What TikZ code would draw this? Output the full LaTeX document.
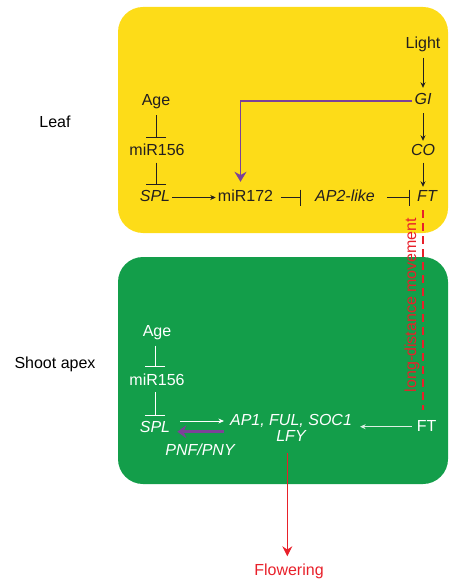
\documentclass[tikz,border=0pt]{standalone}
\usepackage{fontspec}
\setmainfont{Liberation Sans}
\usetikzlibrary{arrows.meta}
\definecolor{leafyellow}{RGB}{253,220,24}
\definecolor{apexgreen}{RGB}{19,158,74}
\definecolor{pathpurple}{RGB}{124,66,152}
\definecolor{flowred}{RGB}{232,32,42}
\definecolor{darkline}{RGB}{35,31,32}
\begin{document}
\begin{tikzpicture}[x=1pt, y=-1pt,
	gene/.style={inner sep=2pt, text height=11.5pt, text depth=3.5pt, font=\fontsize{16}{16.7}\selectfont},
	act/.style={line width=0.8pt, -{Stealth[length=5.5pt, width=5pt]}},
	inhib/.style={line width=0.8pt, -{Bar[width=20pt]}},
	inhibh/.style={line width=0.8pt, -{Bar[width=16pt]}}]
			\useasboundingbox (0,0) rectangle (449,580);
			% the two tissues
			\fill[leafyellow, rounded corners=25pt] (118,7) rectangle (448,233);
			\fill[apexgreen, rounded corners=25pt] (118,257) rectangle (448,484);
			\node[gene](leaf) at (55,124){Leaf};
			\node[gene](apex) at (55,364){Shoot apex};
			% leaf
			\node[gene, text=darkline](light) at (423,45){Light};
			\node[gene, text=darkline](gi) at (423,101){\itshape GI};
			\node[gene, text=darkline](co) at (423,152){\itshape CO};
			\node[gene, text=darkline](ftleaf) at (427,197.5){\itshape FT};
			\node[gene, text=darkline](ageleaf) at (156,102){Age};
			\node[gene, text=darkline](mirleaf) at (157,152){miR156};
			\node[gene, text=darkline](splleaf) at (155,197.5){\itshape SPL};
			\node[gene, text=darkline](mir172) at (245.5,197.5){miR172};
			\node[gene, text=darkline](ap2) at (345,197.5){\itshape AP2-like};
			\draw[darkline, act, shorten <=3pt, shorten >=3.5pt] (light) -- (gi);
			\draw[darkline, act, shorten <=2.5pt, shorten >=1.5pt] (gi) -- (co);
			\draw[darkline, act, shorten <=1pt, shorten >=1pt] (co.south) -- (co.south |- ftleaf.north);
			\draw[darkline, inhib, shorten <=3.5pt, shorten >=4pt] (ageleaf) -- (ageleaf |- mirleaf.north);
			\draw[darkline, inhib, shorten <=1pt, shorten >=3pt] (mirleaf.south -| ageleaf) -- (ageleaf |- splleaf.north);
			\draw[darkline, act] (splleaf) -- (mir172);
			\draw[darkline, inhibh, shorten <=5.5pt, shorten >=12pt] (mir172) -- (ap2);
			\draw[darkline, inhibh, shorten <=10pt, shorten >=5.5pt] (ap2) -- (ftleaf);
			\draw[pathpurple, line width=1.2pt, -{Stealth[length=10pt, width=12pt]}, shorten >=6pt] (gi.west) -| ([xshift=-5pt]mir172.north);
			% long-distance movement
			\draw[flowred, line width=1.3pt, dash pattern=on 8pt off 5pt] (ftleaf.south) ++(-4,3) coordinate (ldtop) -- (ldtop |- 0,410) coordinate (ldbot);
			\node[gene, text=flowred, rotate=90](move) at (412,305){long-distance movement};
			% shoot apex
			\node[gene, text=white](ageapex) at (157,332){Age};
			\node[gene, text=white](mirapex) at (157,381){miR156};
			\node[gene, text=white](splapex) at (155,428.7){\itshape SPL};
			\node[gene, text=white, align=center, anchor=base](targets) at (291,441.7){\itshape AP1, FUL, SOC1\\\itshape LFY};
			\node[gene, text=white](ftapex) at (426.7,427.7){FT};
			\node[gene, text=white](pnf) at (200,451){\itshape PNF/PNY};
			\node[gene, text=flowred](flower) at (289,571){Flowering};
			\draw[white, inhib, shorten <=4pt, shorten >=4.5pt] (ageapex.south -| splapex) -- (splapex |- mirapex.north);
			\draw[white, inhib, shorten <=1.5pt, shorten >=3.5pt] (mirapex.south -| splapex) -- (splapex |- splapex.north);
			\draw[white, act, shorten <=8pt, shorten >=4pt] ([yshift=7.7pt]splapex.east) -- ([yshift=7.7pt]splapex.east -| targets.west);
			\draw[pathpurple, line width=2.6pt, -{Stealth[length=9pt, width=13pt]}, shorten <=4pt, shorten >=5pt] ([yshift=-3pt]splapex.east -| targets.west) -- ([yshift=-3pt]splapex.east);
			\draw[white!85!apexgreen, act, line width=1.2pt, shorten <=3pt, shorten >=6pt] ([yshift=1pt]ftapex.west) -- ([yshift=1pt]ftapex.west -| targets.east);
			\draw[flowred, line width=1pt, -{Stealth[length=10pt, width=10pt]}, shorten <=6pt, shorten >=5pt] (targets.south -| 287.3,0) coordinate (lfyfoot) -- (lfyfoot |- flower.north);
\end{tikzpicture}
\end{document}
